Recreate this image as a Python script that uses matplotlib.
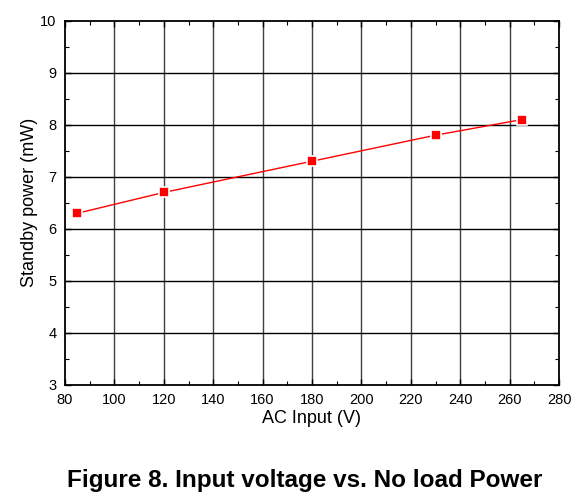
import matplotlib
matplotlib.use("Agg")
import matplotlib.pyplot as plt
from matplotlib.ticker import MultipleLocator

plt.rcParams['font.family'] = ['Liberation Sans', 'DejaVu Sans']

ac_input = [85, 120, 180, 230, 265]
standby_mw = [6.3, 6.7, 7.3, 7.8, 8.1]
x_ticks = [80, 100, 120, 140, 160, 180, 200, 220, 240, 260, 280]
y_ticks = [3, 4, 5, 6, 7, 8, 9, 10]

fig = plt.figure(figsize=(5.76, 4.99), dpi=100)
ax = fig.add_axes([65/576, 1-385/499, (559-65)/576, (385-20.7)/499])

ax.plot(ac_input, standby_mw, color='#ff0000', lw=1.0, marker='s', ms=6.5,
        mec='white', mew=1.2, mfc='#ff0000', zorder=3)

ax.set_xlim(80, 280)
ax.set_ylim(3, 10)
ax.set_xticks(x_ticks)
ax.set_yticks(y_ticks)
ax.xaxis.set_minor_locator(MultipleLocator(10))
ax.yaxis.set_minor_locator(MultipleLocator(0.5))
ax.tick_params(which='both', direction='in', top=True, right=True, labelsize=10.5)
ax.tick_params(which='major', length=4, width=1)
ax.tick_params(axis='x', which='major', pad=6)
ax.tick_params(axis='y', which='major', pad=6)
ax.tick_params(which='minor', length=3, width=0.8)
for x in x_ticks[1:-1]:
    ax.axvline(x, color='#404040', lw=1.0, zorder=1)
for y in y_ticks[1:-1]:
    ax.axhline(y, color='black', lw=1.0, zorder=1)
for s in ax.spines.values():
    s.set_linewidth(1.3)

ax.set_xlabel('AC Input (V)', fontsize=13, labelpad=2)
ax.set_ylabel('Standby power (mW)', fontsize=13, labelpad=2)

fig.text(305/576, 1-480/499, 'Figure 8. Input voltage vs. No load Power',
         ha='center', va='center', fontsize=17.5, fontweight='bold')

fig.savefig('out.png', dpi=100)
